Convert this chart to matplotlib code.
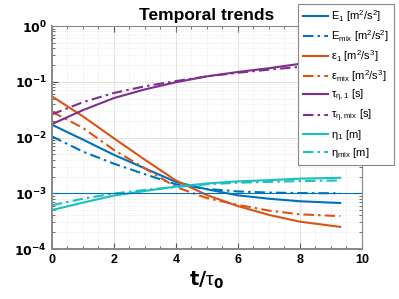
import math
import matplotlib
matplotlib.use("Agg")
import matplotlib.pyplot as plt
from matplotlib.ticker import FixedLocator, FuncFormatter, LogLocator, AutoMinorLocator, NullFormatter

plt.rcParams['font.family'] = ['Liberation Sans', 'DejaVu Sans']
plt.rcParams['mathtext.default'] = 'regular'

t = [0, 1, 2, 3, 4, 5, 6, 7, 8, 9.3]
E1 = [0.017, 0.0092, 0.0049, 0.0028, 0.0016, 0.00118, 0.00092, 0.0008, 0.00072, 0.00067]
Emix = [0.0105, 0.0056, 0.0034, 0.0022, 0.00145, 0.0012, 0.00108, 0.00103, 0.00101, 0.0010]
eps1 = [0.055, 0.024, 0.0097, 0.0040, 0.0017, 0.00093, 0.00059, 0.00041, 0.00031, 0.00025]
epsmix = [0.029, 0.0149, 0.006, 0.0028, 0.0013, 0.00082, 0.00062, 0.00049, 0.00042, 0.00039]
tau1 = [0.0174, 0.031, 0.051, 0.073, 0.098, 0.125, 0.15, 0.175, 0.21, 0.25]
taumix = [0.026, 0.043, 0.063, 0.083, 0.103, 0.125, 0.145, 0.165, 0.185, 0.21]
eta1 = [0.0005, 0.00068, 0.00091, 0.0011, 0.00132, 0.0015, 0.00164, 0.00172, 0.00183, 0.0019]
etamix = [0.00061, 0.0008, 0.00099, 0.00115, 0.0013, 0.00145, 0.00155, 0.0016, 0.00166, 0.0017]

labels = ['E$_1$ [m$^2$/s$^2$]', 'E$_{mix}$ [m$^2$/s$^2$]',
          r'$\epsilon_1$ [m$^2$/s$^3$]', r'$\epsilon_{mix}$ [m$^2$/s$^3$]',
          r'$\tau_{\eta,1}$ [s]', r'$\tau_{\eta,mix}$ [s]',
          r'$\eta_1$ [m]', r'$\eta_{mix}$ [m]']
series = [E1, Emix, eps1, epsmix, tau1, taumix, eta1, etamix]
colors = ['#0072BD', '#0072BD', '#D95319', '#D95319', '#7E2F8E', '#7E2F8E', '#1ABFBF', '#1ABFBF']
dashdot = (0, (5, 2, 1.2, 2))
styles = ['-', dashdot] * 4

fig = plt.figure(figsize=(3.99, 2.99), dpi=100)
ax = fig.add_axes([0.130, 0.167, 0.777, 0.746])

for y, c, ls, lab in zip(series, colors, styles, labels):
    ax.plot(t, y, color=c, linestyle=ls, lw=1.5, label=lab)

ax.axhline(1e-3, color='#0072BD', lw=0.8)

ax.set_yscale('log')
ax.set_xlim(0, 10)
ax.set_ylim(1e-4, 1)
ax.xaxis.set_major_locator(FixedLocator([0, 2, 4, 6, 8, 10]))
ax.xaxis.set_minor_locator(AutoMinorLocator(4))
ax.yaxis.set_major_locator(LogLocator(base=10, numticks=10))
ax.yaxis.set_minor_locator(LogLocator(base=10, subs=range(2, 10), numticks=20))
ax.yaxis.set_minor_formatter(NullFormatter())

def yfmt(v, pos):
    e = int(round(math.log10(v)))
    return r'$\mathbf{10^{%d}}$' % e
ax.yaxis.set_major_formatter(FuncFormatter(yfmt))

ax.tick_params(axis='both', which='major', labelsize=9, direction='in', length=4, color='#555555', top=True, right=True)
ax.tick_params(axis='both', which='minor', direction='in', length=2, color='#555555', top=True, right=True)
for lbl in ax.get_xticklabels():
    lbl.set_fontweight('bold')

ax.grid(True, which='major', color='#dddddd', lw=0.6)
ax.grid(True, which='minor', color='#dddddd', lw=0.5, linestyle=':')
ax.set_axisbelow(True)
for s in ax.spines.values():
    s.set_color('#888888')
    s.set_linewidth(0.8)
ax.spines['left'].set_linewidth(1.4)
ax.spines['bottom'].set_linewidth(1.4)

ax.set_title('Temporal trends', fontsize=12.5, fontweight='bold', pad=4)
ax.set_xlabel(r'$\mathbf{t/}\tau_\mathbf{0}$', fontsize=14, labelpad=2)

leg = ax.legend(loc='upper right', bbox_to_anchor=(0.987, 0.987), bbox_transform=fig.transFigure,
                borderaxespad=0, fontsize=8, frameon=True, fancybox=False, edgecolor='#888888',
                framealpha=1, handlelength=2.3, labelspacing=0.36, borderpad=0.4, handletextpad=0.3)
leg.get_frame().set_linewidth(0.8)

fig.savefig('out.png', dpi=100)
